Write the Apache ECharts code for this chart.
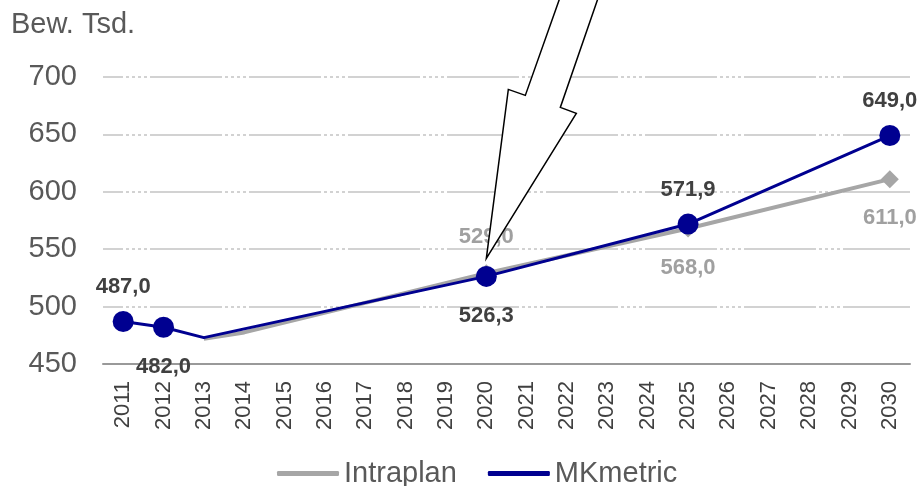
<!DOCTYPE html>
<html>
<head>
<meta charset="utf-8">
<script src="https://cdn.jsdelivr.net/npm/echarts@6/dist/echarts.min.js"></script>
<style>
  html, body { margin: 0; padding: 0; background: #ffffff; }
  #chart { width: 918px; height: 486px; }
</style>
</head>
<body>
<div id="chart"></div>
<script>
const years = ['2011', '2012', '2013', '2014', '2015', '2016', '2017', '2018', '2019', '2020',
  '2021', '2022', '2023', '2024', '2025', '2026', '2027', '2028', '2029', '2030']

// Bevölkerungsprognose in Tsd., Lücken werden verbunden
const intraplan = [null, null, 472, 477.5, null, null, null, null, null, 529.0,
  null, null, null, null, 568.0, null, null, null, null, 611.0]
const mkmetric = [487.0, 482.0, 473, null, null, null, null, null, null, 526.3,
  null, null, null, null, 571.9, null, null, null, null, 649.0]

// welche Punkte einen Marker + Beschriftung bekommen
const intraplanMarked = ['2020', '2025', '2030']
const intraplanBelow = ['2025', '2030']
const mkmetricMarked = ['2011', '2012', '2020', '2025', '2030']
const mkmetricBelow = ['2012', '2020']

const yTicks = { min: 450, max: 700, interval: 50 }

const fontFamily = 'Liberation Sans, Arial, sans-serif'
const darkText = '#404040'
const grayText = '#a0a0a0'

function fmt(v) {
  return v.toFixed(1).replace('.', ',')
}

function buildPoints(values, marked, below, labelColor, symbol, size, gapTop, gapBottom) {
  return values.map((v, i) => {
    if (v === null) return null
    const show = marked.includes(years[i])
    const isBelow = below.includes(years[i])
    return {
      value: v,
      symbol: show ? symbol : 'none',
      symbolSize: size,
      label: {
        show: show,
        position: isBelow ? 'bottom' : 'top',
        distance: isBelow ? gapBottom : gapTop,
        formatter: () => fmt(v),
        color: labelColor,
        fontSize: 22,
        fontWeight: 'bold',
        fontFamily: fontFamily,
      },
    }
  })
}

const chart = echarts.init(document.getElementById('chart'))

chart.setOption({
  animation: false,
  title: {
    text: 'Bew. Tsd.',
    left: 6,
    top: 5,
    textStyle: { color: '#595959', fontSize: 29, fontWeight: 'normal', fontFamily: fontFamily },
  },
  legend: {
    top: 454,
    left: 272,
    itemWidth: 62,
    itemHeight: 5,
    itemGap: 31,
    icon: 'roundRect',
    textStyle: { color: '#595959', fontSize: 29, fontFamily: fontFamily },
    data: ['Intraplan', 'MKmetric'],
  },
  grid: { left: 103, right: 8, top: 77, bottom: 122 },
  xAxis: {
    type: 'category',
    data: years,
    boundaryGap: true,
    axisLine: { lineStyle: { color: '#999999', width: 2 } },
    axisTick: { show: false },
    axisLabel: {
      rotate: 90,
      margin: 17,
      color: darkText,
      fontSize: 22,
      fontFamily: fontFamily,
      interval: 0,
    },
  },
  yAxis: {
    type: 'value',
    min: yTicks.min,
    max: yTicks.max,
    interval: yTicks.interval,
    axisLine: { show: false },
    axisTick: { show: false },
    axisLabel: { color: '#595959', fontSize: 29, fontFamily: fontFamily, margin: 26 },
    splitLine: {
      lineStyle: {
        color: '#c4c4c4',
        width: 1.5,
        type: [72, 3, 3, 3, 3, 3, 3, 3, 3, 3],
        dashOffset: 52,
      },
    },
  },
  series: [
    {
      name: 'Intraplan',
      type: 'line',
      connectNulls: true,
      color: '#a6a6a6',
      lineStyle: { width: 4, color: '#a6a6a6' },
      itemStyle: { color: '#a6a6a6' },
      z: 2,
      data: buildPoints(intraplan, intraplanMarked, intraplanBelow, grayText, 'diamond', 18, 16, 19),
    },
    {
      name: 'MKmetric',
      type: 'line',
      connectNulls: true,
      color: '#000090',
      lineStyle: { width: 3, color: '#000090' },
      itemStyle: { color: '#000090' },
      z: 3,
      data: buildPoints(mkmetric, mkmetricMarked, mkmetricBelow, darkText, 'circle', 21, 13, 18),
    },
  ],
})

// Pfeil zeigt auf den MKmetric-Wert 2020
const tipIdx = years.indexOf('2020')
const pt = chart.convertToPixel({ seriesIndex: 1 }, [tipIdx, mkmetric[tipIdx]])
const tx = pt[0]
const ty = pt[1] - 18
const arrowShape = [
  [0, 0], [22, -169], [39, -163], [84, -290], [122, -290], [74, -151], [90, -145],
]
chart.setOption({
  graphic: [{
    type: 'polygon',
    z: 100,
    shape: { points: arrowShape.map(p => [tx + p[0], ty + p[1]]) },
    style: { fill: '#ffffff', stroke: '#000000', lineWidth: 1.5 },
  }],
})
</script>
</body>
</html>
